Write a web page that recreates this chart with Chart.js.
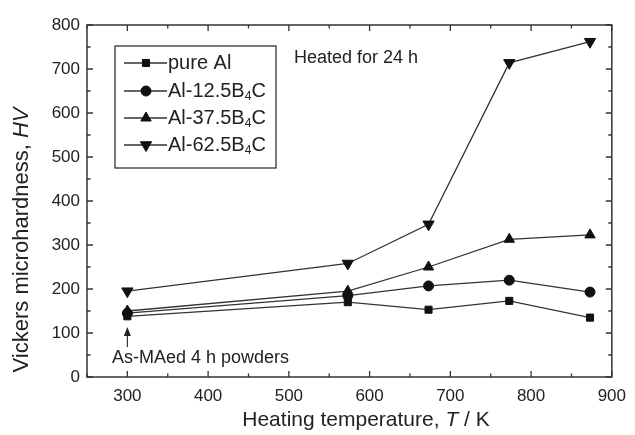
<!DOCTYPE html>
<html>
<head>
<meta charset="utf-8">
<script src="https://cdn.jsdelivr.net/npm/chart.js@4/dist/chart.umd.min.js"></script>
<style>
html,body{margin:0;padding:0;background:#fff;}
#wrap{width:635px;height:435px;}
</style>
</head>
<body>
<div id="wrap"><canvas id="c" width="635" height="435"></canvas></div>
<script>
// ---- data ----
const temperatures = [300, 573, 673, 773, 873];
const pureAl   = [138, 170, 153, 173, 135];
const al125B4C = [145, 185, 207, 220, 193];
const al375B4C = [150, 195, 250, 313, 323];
const al625B4C = [195, 258, 347, 714, 762];
const seriesNames = ['pure Al', 'Al-12.5B|4|C', 'Al-37.5B|4|C', 'Al-62.5B|4|C'];
const xTickLabels = [300, 400, 500, 600, 700, 800, 900];
const yTickLabels = [0, 100, 200, 300, 400, 500, 600, 700, 800];

const FONT = '"Liberation Sans", Arial, sans-serif';
const INK = '#222';
const LINE = '#333';

const styles = [
  {pointStyle:'rect', radius:5, rotation:0},
  {pointStyle:'circle', radius:5, rotation:0},
  {pointStyle:'triangle', radius:6, rotation:0},
  {pointStyle:'triangle', radius:6.5, rotation:180}
];
const allSeries = [pureAl, al125B4C, al375B4C, al625B4C];

const datasets = allSeries.map((vals, i) => ({
  label: seriesNames[i].replace(/\|/g,''),
  data: temperatures.map((t, j) => ({x: t, y: vals[j]})),
  borderColor: LINE,
  borderWidth: 1.3,
  backgroundColor: '#111',
  pointBackgroundColor: '#111',
  pointBorderColor: '#111',
  pointBorderWidth: 1,
  pointStyle: styles[i].pointStyle,
  pointRadius: styles[i].radius,
  pointRotation: styles[i].rotation,
  tension: 0,
  fill: false
}));

function drawRich(ctx, text, x, y, size) {
  const parts = text.split('|');
  let cx = x;
  parts.forEach((p, k) => {
    if (k % 2 === 1) {
      ctx.font = Math.round(size*0.62) + 'px ' + FONT;
      ctx.fillText(p, cx, y + size*0.28);
    } else {
      ctx.font = size + 'px ' + FONT;
      ctx.fillText(p, cx, y);
    }
    cx += ctx.measureText(p).width;
  });
}

function drawMixed(ctx, parts, size, cx0, y) {
  let w = 0;
  parts.forEach(p => { ctx.font = (p[1] ? 'italic ' : '') + size + 'px ' + FONT; w += ctx.measureText(p[0]).width; });
  let cx = cx0 - w / 2;
  parts.forEach(p => { ctx.font = (p[1] ? 'italic ' : '') + size + 'px ' + FONT; ctx.fillText(p[0], cx, y); cx += ctx.measureText(p[0]).width; });
}

const decor = {
  id: 'decor',
  afterDraw(chart) {
    const ctx = chart.ctx;
    const a = chart.chartArea;
    const xs = chart.scales.x, ys = chart.scales.y;
    ctx.save();
    ctx.strokeStyle = LINE;
    ctx.lineWidth = 1.5;
    ctx.strokeRect(a.left, a.top, a.right - a.left, a.bottom - a.top);
    ctx.lineWidth = 1.3;
    ctx.beginPath();
    xs.ticks.forEach(t => {
      const px = xs.getPixelForValue(t.value);
      const len = (t.value % 100 === 0) ? 6 : 3.5;
      ctx.moveTo(px, a.bottom); ctx.lineTo(px, a.bottom - len);
      ctx.moveTo(px, a.top); ctx.lineTo(px, a.top + len);
    });
    ys.ticks.forEach(t => {
      const py = ys.getPixelForValue(t.value);
      const len = (t.value % 100 === 0) ? 6 : 3.5;
      ctx.moveTo(a.left, py); ctx.lineTo(a.left + len, py);
      ctx.moveTo(a.right, py); ctx.lineTo(a.right - len, py);
    });
    ctx.stroke();

    // axis titles
    ctx.fillStyle = INK;
    ctx.textBaseline = 'middle';
    ctx.textAlign = 'left';
    drawMixed(ctx, [['Heating temperature, ', false], ['T', true], [' / K', false]], 21, 366, 420);
    ctx.save();
    ctx.translate(22, 240);
    ctx.rotate(-Math.PI / 2);
    drawMixed(ctx, [['Vickers microhardness, ', false], ['HV', true]], 22, 0, 0);
    ctx.restore();

    // annotations
    ctx.font = '18px ' + FONT;
    ctx.textAlign = 'left';
    ctx.fillText('Heated for 24 h', 294, 58);
    ctx.fillText('As-MAed 4 h powders', 112, 358);
    const ax = xs.getPixelForValue(temperatures[0]);
    ctx.strokeStyle = LINE; ctx.lineWidth = 1.2;
    ctx.beginPath(); ctx.moveTo(ax, 347); ctx.lineTo(ax, 332); ctx.stroke();
    ctx.fillStyle = '#222';
    ctx.beginPath(); ctx.moveTo(ax, 327); ctx.lineTo(ax - 3.5, 336); ctx.lineTo(ax + 3.5, 336); ctx.closePath(); ctx.fill();

    // legend
    ctx.strokeStyle = LINE; ctx.lineWidth = 1.3;
    ctx.strokeRect(115, 46, 161, 122);
    const rows = [63, 91, 118, 145];
    chart.data.datasets.forEach((ds, i) => {
      const y = rows[i];
      ctx.strokeStyle = LINE; ctx.lineWidth = 1.3;
      ctx.beginPath(); ctx.moveTo(124, y); ctx.lineTo(167, y); ctx.stroke();
      ctx.fillStyle = '#111'; ctx.strokeStyle = '#111'; ctx.lineWidth = 1;
      Chart.helpers.drawPoint(ctx, {pointStyle: styles[i].pointStyle, radius: styles[i].radius, rotation: styles[i].rotation, borderWidth: 1}, 146, y);
      ctx.fillStyle = INK;
      ctx.textBaseline = 'middle';
      drawRich(ctx, seriesNames[i], 168, y, 20);
    });
    ctx.restore();
  }
};

new Chart(document.getElementById('c'), {
  type: 'line',
  data: { datasets },
  options: {
    responsive: false,
    animation: false,
    devicePixelRatio: 1,
    layout: { padding: { top: 25, right: 16, left: 0, bottom: 0 } },
    plugins: { legend: { display: false }, tooltip: { enabled: false } },
    scales: {
      x: {
        type: 'linear', min: 250, max: 900,
        grid: { display: false, drawTicks: false },
        border: { display: false },
        ticks: {
          stepSize: 50, autoSkip: false, padding: 9, color: INK,
          font: { family: FONT, size: 17 },
          maxRotation: 0,
          callback: v => xTickLabels.includes(v) ? String(v) : ''
        },
        afterFit: s => { s.height = 58; }
      },
      y: {
        min: 0, max: 800,
        grid: { display: false, drawTicks: false },
        border: { display: false },
        ticks: {
          stepSize: 50, autoSkip: false, padding: 7, color: INK,
          font: { family: FONT, size: 17 },
          callback: v => yTickLabels.includes(v) ? String(v) : ''
        },
        afterFit: s => { s.width = 87; }
      }
    }
  },
  plugins: [decor]
});
</script>
</body>
</html>
